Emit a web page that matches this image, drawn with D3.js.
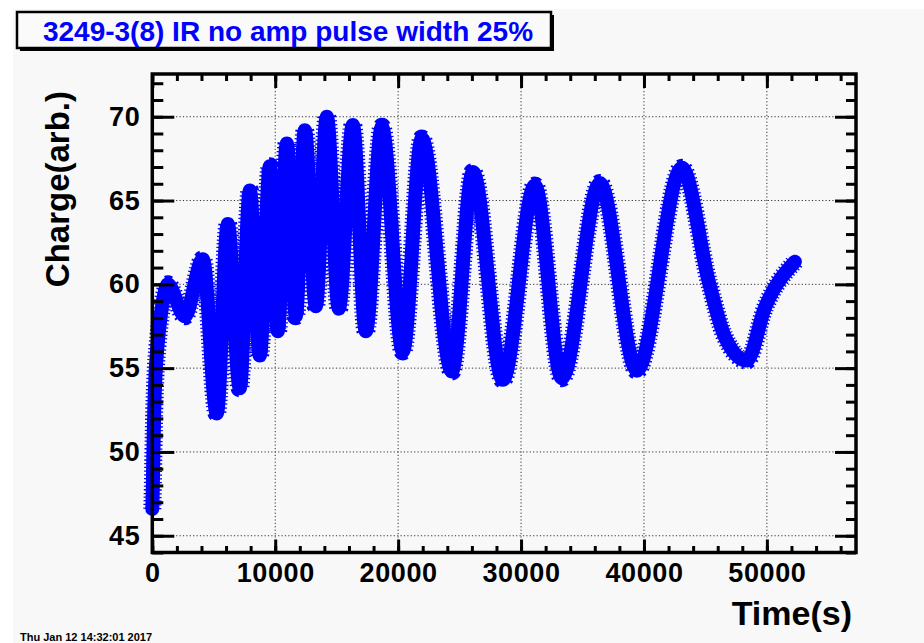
<!DOCTYPE html>
<html>
<head>
<meta charset="utf-8">
<script src="https://cdn.jsdelivr.net/npm/d3@7"></script>
<style>
  body { margin: 0; background: #ffffff; }
  svg { display: block; }
  text { font-family: "Liberation Sans", Arial, Helvetica, sans-serif; font-weight: bold; }
</style>
</head>
<body>
<svg id="chart" width="924" height="643"></svg>
<script>
// data (peaks / troughs of the charge trace)
const timeS = [0, 40, 90, 160, 260, 420, 700, 1000, 1260,
  2644, 4109, 5248, 6143, 7120, 7933, 8747, 9561, 10212, 10944,
  11676, 12408, 13303, 14199, 15175, 16314, 17372, 18674, 20382,
  21928, 24369, 26078, 28519, 31123, 33320, 36412, 39422, 43084,
  45297, 46583, 48373, 49837, 52278];
const charge = [46.6, 47.8, 50.0, 52.5, 54.6, 56.3, 58.2, 59.5, 60.0,
  58.1, 61.5, 52.3, 63.6, 53.8, 65.6, 55.75, 67.05, 57.2, 68.4,
  58.1, 69.2, 58.7, 70.0, 58.55, 69.5, 57.2, 69.4, 56.0,
  68.7, 54.8, 66.7, 54.3, 65.9, 54.4, 66.05, 54.85, 66.95,
  60.08, 56.86, 55.45, 58.6, 61.35];

const xMajor = [0, 10000, 20000, 30000, 40000, 50000];
const yMajor = [45, 50, 55, 60, 65, 70];
const xMinor = d3.range(0, 57001, 2000);
const yMinor = d3.range(44, 73, 1);

const titleText = "3249-3(8) IR no amp pulse width 25%";
const xTitle = "Time(s)";
const yTitle = "Charge(arb.)";
const dateText = "Thu Jan 12 14:32:01 2017";

const svg = d3.select("#chart");
const frame = { left: 152.3, right: 856, top: 74, bottom: 552.5 };

const x = d3.scaleLinear().domain([0, 57250]).range([frame.left, frame.right]);
const y = d3.scaleLinear().domain([44, 72.55]).range([frame.bottom, frame.top]);

// canvas background
svg.append("rect").attr("x", 13).attr("y", 9).attr("width", 911).attr("height", 634).attr("fill", "#f8f8f8");

// grid
const grid = svg.append("g").attr("stroke", "#333").attr("stroke-width", 1).attr("stroke-dasharray", "1.2 2.2");
grid.selectAll(".gx").data(xMajor.filter(d => d > 0)).enter().append("line")
  .attr("x1", d => x(d)).attr("x2", d => x(d))
  .attr("y1", frame.top).attr("y2", frame.bottom);
grid.selectAll(".gy").data(yMajor).enter().append("line")
  .attr("x1", frame.left).attr("x2", frame.right)
  .attr("y1", d => y(d)).attr("y2", d => y(d));

// the trace
const pts = timeS.map((t, i) => [t, charge[i]]);
const line = d3.line().x(d => x(d[0])).y(d => y(d[1])).curve(d3.curveMonotoneX);

svg.append("path").datum(pts).attr("d", line)
  .attr("fill", "none").attr("stroke", "#0000ff").attr("stroke-width", 18)
  .attr("stroke-dasharray", "1.3 2.4").attr("stroke-linejoin", "round");
svg.append("path").datum(pts).attr("d", line)
  .attr("fill", "none").attr("stroke", "#0000ff").attr("stroke-width", 14)
  .attr("stroke-linejoin", "round").attr("stroke-linecap", "round");

// axes (ROOT style: ticks inside the frame)
function styleAxis(g) {
  g.select(".domain").remove();
  g.selectAll("line").attr("stroke", "#000").attr("stroke-width", 3);
  g.selectAll("text").attr("fill", "#000").style("font-size", "27px").style("letter-spacing", "0.6px");
}

svg.append("g").attr("transform", `translate(0,${frame.bottom})`)
  .call(d3.axisBottom(x).tickValues(xMinor).tickSize(-6.5).tickFormat(""))
  .call(styleAxis);
svg.append("g").attr("transform", `translate(0,${frame.bottom})`)
  .call(d3.axisBottom(x).tickValues(xMajor).tickSize(-13).tickPadding(10).tickFormat(d3.format("d")))
  .call(styleAxis);

svg.append("g").attr("transform", `translate(0,${frame.top})`)
  .call(d3.axisTop(x).tickValues(xMinor).tickSize(-7).tickFormat(""))
  .call(styleAxis);
svg.append("g").attr("transform", `translate(0,${frame.top})`)
  .call(d3.axisTop(x).tickValues(xMajor).tickSize(-14).tickFormat(""))
  .call(styleAxis);

svg.append("g").attr("transform", `translate(${frame.left},0)`)
  .call(d3.axisLeft(y).tickValues(yMinor).tickSize(-11).tickFormat(""))
  .call(styleAxis);
svg.append("g").attr("transform", `translate(${frame.left},0)`)
  .call(d3.axisLeft(y).tickValues(yMajor).tickSize(-22).tickPadding(12).tickFormat(d3.format("d")))
  .call(styleAxis);

svg.append("g").attr("transform", `translate(${frame.right},0)`)
  .call(d3.axisRight(y).tickValues(yMinor).tickSize(-10).tickFormat(""))
  .call(styleAxis);
svg.append("g").attr("transform", `translate(${frame.right},0)`)
  .call(d3.axisRight(y).tickValues(yMajor).tickSize(-21).tickFormat(""))
  .call(styleAxis);

// frame
svg.append("rect")
  .attr("x", frame.left).attr("y", frame.top)
  .attr("width", frame.right - frame.left).attr("height", frame.bottom - frame.top)
  .attr("fill", "none").attr("stroke", "#000").attr("stroke-width", 3.5);

// axis titles
svg.append("text").attr("x", 852).attr("y", 625).attr("text-anchor", "end")
  .style("font-size", "34px").text(xTitle);
svg.append("text").attr("transform", "translate(69,91) rotate(-90)").attr("text-anchor", "end")
  .style("font-size", "33px").text(yTitle);

// title box
svg.append("rect").attr("x", 20).attr("y", 15).attr("width", 534).attr("height", 36).attr("fill", "#000");
svg.append("rect").attr("x", 17).attr("y", 12).attr("width", 534).attr("height", 36)
  .attr("fill", "#fafafa").attr("stroke", "#000").attr("stroke-width", 2.5);
svg.append("text").attr("x", 288).attr("y", 41).attr("text-anchor", "middle")
  .attr("fill", "#0000ff").style("font-size", "28px").text(titleText);

// date stamp
svg.append("text").attr("x", 20).attr("y", 641).style("font-size", "11px").text(dateText);
</script>
</body>
</html>
